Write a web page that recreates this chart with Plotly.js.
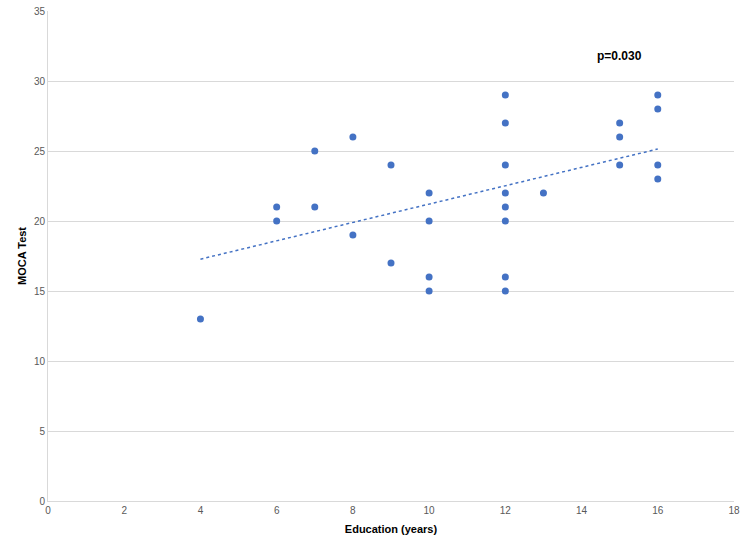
<!DOCTYPE html>
<html>
<head>
<meta charset="utf-8">
<script src="https://cdn.plot.ly/plotly-3.0.1.min.js"></script>
<style>html,body{margin:0;padding:0;background:#fff}#chart{width:750px;height:549px}</style>
</head>
<body>
<div id="chart"></div>
<script>
const education = [4, 6, 6, 7, 7, 8, 8, 9, 9, 10, 10, 10, 10, 12, 12, 12, 12, 12, 12, 12, 12, 13, 15, 15, 15, 16, 16, 16, 16];
const mocaScore = [13, 21, 20, 25, 21, 26, 19, 24, 17, 22, 20, 16, 15, 29, 27, 24, 22, 21, 20, 16, 15, 22, 27, 26, 24, 29, 28, 24, 23];
const xTicks = [0, 2, 4, 6, 8, 10, 12, 14, 16, 18];
const yTicks = [0, 5, 10, 15, 20, 25, 30, 35];
const pLabel = "p=0.030";

// least-squares trendline from data
const n = education.length;
const mx = education.reduce((a, b) => a + b, 0) / n;
const my = mocaScore.reduce((a, b) => a + b, 0) / n;
let sxy = 0, sxx = 0;
for (let i = 0; i < n; i++) { sxy += (education[i] - mx) * (mocaScore[i] - my); sxx += (education[i] - mx) ** 2; }
const slope = sxy / sxx, intercept = my - slope * mx;
const xMin = Math.min(...education), xMax = Math.max(...education);
const trendX = [xMin, xMax];
const trendY = trendX.map(x => intercept + slope * x);

const blue = '#4472C4';
const data = [
  {x: trendX, y: trendY, type: 'scatter', mode: 'lines', line: {color: blue, width: 1.5, dash: 'dot'}, hoverinfo: 'skip'},
  {x: education, y: mocaScore, type: 'scatter', mode: 'markers', marker: {color: blue, size: 7}}
];
const font = "Liberation Sans, Arial, sans-serif";
const layout = {
  width: 750, height: 549,
  margin: {l: 48, r: 16, t: 11, b: 48},
  showlegend: false,
  paper_bgcolor: '#fff', plot_bgcolor: '#fff',
  font: {family: font, color: '#595959', size: 10},
  xaxis: {
    range: [0, 18], tickvals: xTicks, ticktext: xTicks.map(String),
    showgrid: false, zeroline: false, showline: true, linecolor: '#d9d9d9', linewidth: 1,
    ticks: '', ticklen: 0,
    tickfont: {size: 10, color: '#595959'},
    title: {text: 'Education (years)', font: {size: 11, color: '#000', family: font, weight: 'bold'}, standoff: 10}
  },
  yaxis: {
    range: [0, 35], tickvals: yTicks, ticktext: yTicks.map(String),
    showgrid: true, gridcolor: '#d9d9d9', gridwidth: 1, zeroline: false,
    showline: true, linecolor: '#d9d9d9', linewidth: 1, ticks: '',
    tickfont: {size: 10, color: '#595959'},
    title: {text: 'MOCA Test', font: {size: 11, color: '#000', family: font, weight: 'bold'}, standoff: 5}
  },
  annotations: [{
    x: 15, y: 31.8, xref: 'x', yref: 'y', text: '<b>' + pLabel + '</b>', showarrow: false,
    font: {size: 12, color: '#000', family: font}
  }]
};
Plotly.newPlot('chart', data, layout, {displayModeBar: false, staticPlot: true});
</script>
</body>
</html>
